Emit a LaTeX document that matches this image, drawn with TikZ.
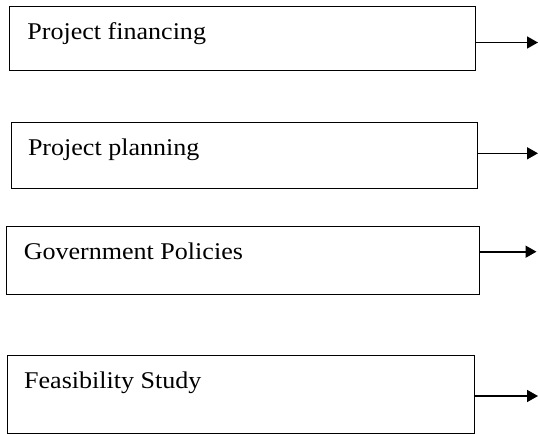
\documentclass[tikz,border=0pt]{standalone}
\usepackage{fontspec}
\setmainfont{Liberation Serif}
\usetikzlibrary{arrows.meta}
\begin{document}
\begin{tikzpicture}[x=1pt,y=1pt,
  box/.style={draw=black, line width=1pt, rectangle, anchor=north west, inner sep=0pt},
  lbl/.style={anchor=base west, inner sep=0pt, font=\fontsize{24}{29}\selectfont},
  arr/.style={line width=1.6pt, -{Triangle[length=11pt,width=12pt]}}]
\useasboundingbox (0,0) rectangle (539,-434);
% boxes
\node[box, minimum width=466.1pt, minimum height=64.6pt] (b1) at (9.3,-5.7) {};
\node[box, minimum width=465.8pt, minimum height=66.3pt] (b2) at (11.3,-122) {};
\node[box, minimum width=473.1pt, minimum height=68.3pt] (b3) at (5.8,-226) {};
\node[box, minimum width=466.9pt, minimum height=78pt] (b4) at (6.9,-355) {};
% labels
\node[lbl] (t1) at (27.2,-39.5) {\scalebox{1.085}[1]{Project financing}};
\node[lbl] (t2) at (27.8,-155) {\scalebox{1.085}[1]{Project planning}};
\node[lbl] (t3) at (23.6,-259.3) {\scalebox{1.085}[1]{Government Policies}};
\node[lbl] (t4) at (24,-388) {\scalebox{1.085}[1]{Feasibility Study}};
% arrow ends
\coordinate (e1) at (538,-42.5);
\coordinate (e2) at (538,-153.3);
\coordinate (e3) at (536.5,-251.7);
\coordinate (e4) at (538,-396);
\draw[arr] (b1.east |- e1) -- (e1);
\draw[arr] (b2.east |- e2) -- (e2);
\draw[arr] (b3.east |- e3) -- (e3);
\draw[arr] (b4.east |- e4) -- (e4);
\end{tikzpicture}
\end{document}
